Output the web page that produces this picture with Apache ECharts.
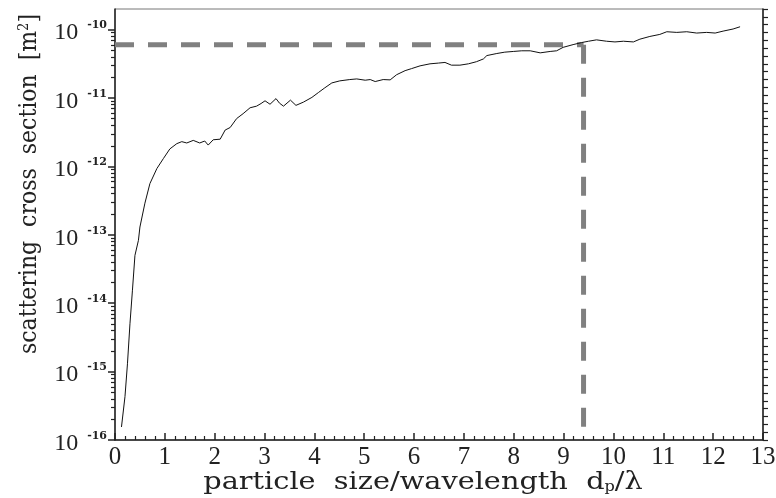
<!DOCTYPE html>
<html>
<head>
<meta charset="utf-8">
<script src="https://cdn.jsdelivr.net/npm/echarts@6/dist/echarts.min.js"></script>
<style>
  html, body { margin: 0; padding: 0; background: #fff; }
  #chart { width: 776px; height: 498px; }
</style>
</head>
<body>
<div id="chart"></div>
<script>
// particle size / wavelength
const sizeRatio = [0.13, 0.2, 0.25, 0.3, 0.35, 0.4, 0.47, 0.5, 0.6, 0.7, 0.84, 0.97, 1.1, 1.24, 1.34, 1.44, 1.57, 1.7, 1.8, 1.87,
  1.97, 2.11, 2.21, 2.31, 2.44, 2.57, 2.71, 2.84, 2.93, 3.01, 3.11, 3.23, 3.3, 3.38, 3.52, 3.63, 3.78, 3.95, 4.08, 4.21,
  4.35, 4.51, 4.71, 4.85, 5.02, 5.12, 5.22, 5.38, 5.52, 5.65, 5.82, 5.95, 6.12, 6.32, 6.49, 6.62, 6.75, 6.92, 7.09, 7.25,
  7.39, 7.46, 7.66, 7.82, 7.99, 8.16, 8.33, 8.53, 8.73, 8.86, 8.99, 9.19, 9.36, 9.5, 9.66, 9.86, 10.03, 10.2, 10.4, 10.53,
  10.73, 10.93, 11.07, 11.27, 11.47, 11.67, 11.87, 12.04, 12.2, 12.4, 12.54]
// scattering cross section [m^2]
const crossSection = [1.55e-16, 4.3e-16, 1.3e-15, 5.0e-15, 1.55e-14, 5.0e-14, 8.3e-14, 1.3e-13, 2.9e-13, 5.6e-13, 9.3e-13, 1.3e-12,
  1.8e-12, 2.15e-12, 2.3e-12, 2.2e-12, 2.4e-12, 2.2e-12, 2.35e-12, 2.05e-12, 2.45e-12, 2.5e-12, 3.4e-12, 3.7e-12, 5.0e-12,
  5.9e-12, 7.2e-12, 7.6e-12, 8.3e-12, 9.1e-12, 8.1e-12, 9.8e-12, 8.4e-12, 7.6e-12, 9.3e-12, 7.8e-12, 8.7e-12, 1.02e-11,
  1.2e-11, 1.41e-11, 1.66e-11, 1.78e-11, 1.86e-11, 1.9e-11, 1.82e-11, 1.86e-11, 1.74e-11, 1.86e-11, 1.84e-11, 2.19e-11,
  2.51e-11, 2.69e-11, 2.95e-11, 3.16e-11, 3.24e-11, 3.31e-11, 3.02e-11, 3.02e-11, 3.16e-11, 3.39e-11, 3.72e-11, 4.17e-11,
  4.47e-11, 4.68e-11, 4.79e-11, 4.9e-11, 4.9e-11, 4.57e-11, 4.79e-11, 4.9e-11, 5.5e-11, 6.03e-11, 6.46e-11, 6.76e-11,
  7.08e-11, 6.76e-11, 6.6e-11, 6.76e-11, 6.6e-11, 7.24e-11, 7.94e-11, 8.5e-11, 9.3e-11, 9.1e-11, 9.3e-11, 8.9e-11, 9.1e-11,
  8.9e-11, 9.5e-11, 1.02e-10, 1.1e-10]

// dashed guide: cross section level and the size where the curve reaches it
const markSize = 9.4
const markSection = 6e-11

const yMin = 1e-16
const yMax = 2e-10
const decades = [1e-16, 1e-15, 1e-14, 1e-13, 1e-12, 1e-11, 1e-10]
const minorSteps = [2, 3, 4, 5, 6, 7, 8, 9]

const minorTicks = []
decades.slice(0, -1).forEach((d) => {
  minorSteps.forEach((m) => minorTicks.push(d * m))
})

const axisColor = '#222'
const serif = '"Liberation Serif", "Times New Roman", serif'
const titleFont = '"DejaVu Serif", serif'

const curve = sizeRatio.map((x, i) => [x, crossSection[i]])
const dash = { color: '#808080', width: 5, type: [19, 14] }

const option = {
  animation: false,
  backgroundColor: '#fff',
  grid: { left: 115, right: 13, top: 9, bottom: 58, show: true, borderColor: '#777', borderWidth: 1, outerBoundsMode: 'none' },
  xAxis: {
    type: 'value',
    min: 0,
    max: 13,
    interval: 1,
    splitLine: { show: false },
    axisLine: { lineStyle: { color: axisColor, width: 1.5 } },
    axisTick: { inside: true, length: 7, lineStyle: { color: axisColor, width: 1.5 } },
    minorTick: { show: true, splitNumber: 5, length: 4, lineStyle: { color: axisColor, width: 1.2 } },
    axisLabel: { margin: 5, fontFamily: serif, fontSize: 25, color: '#222' },
  },
  yAxis: [
    {
      type: 'log',
      logBase: 10,
      min: yMin,
      max: yMax,
      position: 'left',
      splitLine: { show: false },
      axisLine: { onZero: false, lineStyle: { color: axisColor, width: 1.5 } },
      axisTick: { length: 7, customValues: decades, lineStyle: { color: axisColor, width: 1.5 } },
      axisLabel: {
        customValues: decades,
        margin: 8,
        padding: [7, 0, 0, 0],
        formatter: (v) => '{b|10}{s|' + Math.round(Math.log10(v)) + '}',
        rich: {
          b: { fontFamily: serif, fontSize: 24, color: '#222', lineHeight: 26 },
          s: { fontFamily: titleFont, fontSize: 11, fontWeight: 'bold', color: '#222', lineHeight: 12, verticalAlign: 'top', padding: [0, 0, 0, 9] },
        },
      },
    },
    {
      type: 'log',
      logBase: 10,
      min: yMin,
      max: yMax,
      position: 'left',
      splitLine: { show: false },
      axisLine: { show: false },
      axisTick: { length: 4, customValues: minorTicks, lineStyle: { color: axisColor, width: 1.2 } },
      axisLabel: { show: false },
    },
    {
      type: 'value',
      min: 0,
      max: 55,
      interval: 1,
      position: 'right',
      splitLine: { show: false },
      axisLine: { show: true, lineStyle: { color: axisColor, width: 1.5 } },
      axisTick: { length: 5, lineStyle: { color: axisColor, width: 1.2 } },
      axisLabel: { show: false },
    },
  ],
  graphic: [
    {
      type: 'text',
      x: 29,
      y: 184,
      rotation: Math.PI / 2,
      scaleX: 0.88,
      style: {
        text: 'scattering  cross  section  [m{sup|2}]',
        fontFamily: titleFont,
        fontSize: 25,
        fill: '#222',
        align: 'center',
        verticalAlign: 'middle',
        rich: { sup: { fontFamily: titleFont, fontSize: 15, fill: '#222', verticalAlign: 'top', lineHeight: 14 } },
      },
    },
    {
      type: 'text',
      x: 423,
      y: 482,
      scaleX: 1.15,
      style: {
        text: 'particle  size/wavelength  d{sub|p}/λ',
        fontFamily: titleFont,
        fontSize: 25,
        fill: '#222',
        align: 'center',
        verticalAlign: 'middle',
        rich: { sub: { fontFamily: titleFont, fontSize: 14, fill: '#222', verticalAlign: 'bottom', lineHeight: 10 } },
      },
    },
  ],
  series: [
    {
      type: 'line',
      data: [[0, markSection], [markSize, markSection]],
      showSymbol: false,
      lineStyle: dash,
      silent: true,
      z: 2,
    },
    {
      type: 'line',
      data: [[markSize, markSection], [markSize, yMin]],
      showSymbol: false,
      lineStyle: dash,
      silent: true,
      z: 2,
    },
    {
      type: 'line',
      data: curve,
      showSymbol: false,
      lineStyle: { color: '#111', width: 1 },
      silent: true,
      z: 3,
    },
  ],
}

const c = echarts.init(document.getElementById('chart'), null, { renderer: 'canvas' })
c.setOption(option)
</script>
</body>
</html>
